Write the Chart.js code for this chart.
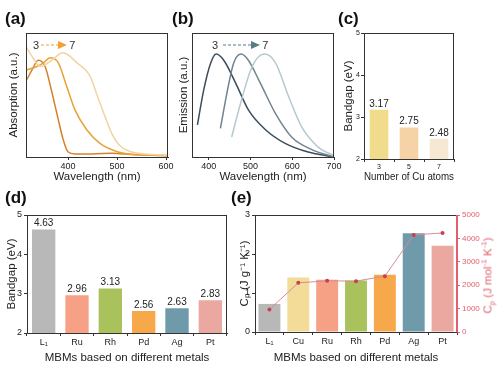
<!DOCTYPE html>
<html>
<head>
<meta charset="utf-8">
<script src="https://cdn.jsdelivr.net/npm/chart.js@4.4.0/dist/chart.umd.min.js"></script>
<style>
  body { margin: 0; background: #fff; width: 497px; height: 367px; position: relative; overflow: hidden;
         font-family: "Liberation Sans", Arial, sans-serif; }
  canvas { position: absolute; }
  .tag { position: absolute; font-weight: bold; font-size: 17px; color: #111; line-height: 20px; }
  .leg { position: absolute; font-size: 11px; color: #333; display: flex; align-items: center; gap: 2px; line-height: 12px; }
  .rtitle { position: absolute; font-size: 11.5px; color: #e0606f; white-space: nowrap; transform: rotate(-90deg); transform-origin: center; }
</style>
</head>
<body>
<canvas id="absChart" width="171" height="162" style="left:7px;top:24px"></canvas>
<canvas id="emiChart" width="168" height="162" style="left:177px;top:24px"></canvas>
<canvas id="cuChart" width="118" height="162" style="left:342px;top:24px"></canvas>
<canvas id="gapChart" width="227" height="160" style="left:5px;top:205px"></canvas>
<canvas id="cpChart" width="257" height="160" style="left:238px;top:205px"></canvas>

<div class="tag" style="left:5px;top:9px">(a)</div>
<div class="tag" style="left:172px;top:9px">(b)</div>
<div class="tag" style="left:338px;top:9px">(c)</div>
<div class="tag" style="left:5px;top:188px">(d)</div>
<div class="tag" style="left:231px;top:188px">(e)</div>

<div class="leg" style="left:33px;top:39px">3
  <svg width="26" height="10"><line x1="0" y1="5" x2="19" y2="5" stroke="#f0a030" stroke-width="1.2" stroke-dasharray="3,2"/><polygon points="17,1 26,5 17,9" fill="#f0a030"/></svg>7</div>
<div class="leg" style="left:212px;top:39px">3
  <svg width="40" height="10"><line x1="3" y1="5" x2="32" y2="5" stroke="#5a7a88" stroke-width="1.2" stroke-dasharray="3,2"/><polygon points="31,1 40,5 31,9" fill="#5a7a88"/></svg>7</div>

<div class="rtitle" style="left:440px;top:267px;width:96px;text-align:center">C<sub style="font-size:8px">p</sub> (J mol<sup style="font-size:8px">-1</sup> K<sup style="font-size:8px">-1</sup>)</div>

<script>
// (a) absorption spectra, 3 / 5 / 7 Cu atoms
const absWl3 = [315, 326, 339, 353, 367, 380, 390, 400, 414, 450, 490, 530, 570, 604];
const absVal3 = [0.62, 0.70, 0.78, 0.73, 0.52, 0.30, 0.14, 0.04, 0.025, 0.025, 0.03, 0.02, 0.015, 0.01];
const absWl5 = [314, 336, 350, 363, 380, 397, 414, 438, 465, 499, 533, 570, 604];
const absVal5 = [0.70, 0.73, 0.76, 0.80, 0.76, 0.57, 0.38, 0.22, 0.11, 0.045, 0.02, 0.015, 0.01];
const absWl7 = [314, 328, 343, 363, 390, 418, 445, 459, 475, 489, 506, 530, 574, 604];
const absVal7 = [0.89, 0.80, 0.73, 0.77, 0.84, 0.76, 0.65, 0.50, 0.33, 0.19, 0.09, 0.04, 0.02, 0.015];
const absTicks = [400, 500, 600];

// (b) emission spectra
const emiWl3 = [373, 388, 405, 418, 436, 464, 495, 536, 583, 638, 700];
const emiVal3 = [0.26, 0.54, 0.76, 0.83, 0.78, 0.60, 0.38, 0.22, 0.11, 0.04, 0.0];
const emiWl5 = [428, 445, 460, 478, 495, 523, 560, 599, 647, 700];
const emiVal5 = [0.23, 0.54, 0.76, 0.83, 0.78, 0.60, 0.35, 0.16, 0.06, 0.0];
const emiWl7 = [455, 476, 504, 533, 560, 591, 623, 662, 700];
const emiVal7 = [0.16, 0.43, 0.73, 0.83, 0.76, 0.49, 0.24, 0.08, 0.01];
const emiTicks = [400, 500, 600, 700];

// (c) bandgap vs number of Cu atoms
const cuAtoms = ['3', '5', '7'];
const cuGap = [3.17, 2.75, 2.48];

// (d) bandgap of MBMs
const gapMetals = ['L\u2081', 'Ru', 'Rh', 'Pd', 'Ag', 'Pt'];
const gapValues = [4.63, 2.96, 3.13, 2.56, 2.63, 2.83];
const gapTicks = [2, 3, 4, 5];

// (e) heat capacity
const cpMetals = ['L\u2081', 'Cu', 'Ru', 'Rh', 'Pd', 'Ag', 'Pt'];
const cpMass = [0.72, 1.40, 1.34, 1.32, 1.47, 2.53, 2.21];
const cpMolar = [966, 2100, 2188, 2173, 2386, 4148, 4233];

Chart.defaults.font.family = '"Liberation Sans", Arial, sans-serif';
Chart.defaults.color = '#222';
Chart.defaults.animation = false;

const metalColors = { 'L\u2081': '#b8b8b8', Cu: '#f3dc98', Ru: '#f6a186', Rh: '#a9c25c', Pd: '#f7a84a', Ag: '#6e9aaa', Pt: '#eba8a1' };

const pts = (xs, ys) => xs.map((x, i) => ({ x: x, y: ys[i] }));

// frame + value labels
const framePlugin = {
    id: 'frame',
    afterDraw(chart, args, opts) {
        const { ctx, chartArea: a } = chart;
        ctx.save();
        ctx.strokeStyle = '#333';
        ctx.lineWidth = 1;
        ctx.strokeRect(a.left + 0.5, a.top + 0.5, a.right - a.left - 1, a.bottom - a.top);
        if (opts.rightColor) {
            ctx.strokeStyle = opts.rightColor;
            ctx.beginPath();
            ctx.moveTo(a.right - 0.5, a.top);
            ctx.lineTo(a.right - 0.5, a.bottom);
            ctx.stroke();
        }
        if (opts.labels) {
            const meta = chart.getDatasetMeta(0);
            ctx.fillStyle = '#222';
            ctx.font = (opts.labelSize || 10) + 'px "Liberation Sans", Arial, sans-serif';
            ctx.textAlign = 'center';
            ctx.textBaseline = 'bottom';
            meta.data.forEach((bar, i) => ctx.fillText(opts.labels[i], bar.x, bar.y - 1));
        }
        ctx.restore();
    }
};
Chart.register(framePlugin);

function axisGrid() {
    return { display: true, drawOnChartArea: false, drawTicks: true, tickLength: 3, color: '#333' };
}

function lineChart(id, sets, xmin, xmax, xticks, ytitle, yw, xh, padTop, padRight) {
    new Chart(document.getElementById(id), {
        type: 'line',
        data: {
            datasets: sets.map(s => ({
                data: s.data, borderColor: s.color, borderWidth: 1.5, pointRadius: 0,
                cubicInterpolationMode: 'monotone', fill: false
            }))
        },
        options: {
            responsive: false,
            layout: { padding: { top: padTop, right: padRight, left: 0, bottom: 0 } },
            plugins: { legend: { display: false }, tooltip: { enabled: false } },
            scales: {
                x: {
                    type: 'linear', min: xmin, max: xmax,
                    grid: axisGrid(), border: { color: '#333' },
                    ticks: { font: { size: 9 }, padding: 1, maxRotation: 0 },
                    afterBuildTicks: s => { s.ticks = xticks.map(v => ({ value: v })); },
                    title: { display: true, text: 'Wavelength (nm)', font: { size: 11.5 }, padding: { top: 0, bottom: 2 } },
                    afterFit: s => { s.height = xh; }
                },
                y: {
                    min: 0, max: 1,
                    grid: { display: false }, border: { color: '#333' },
                    ticks: { display: false },
                    title: { display: true, text: ytitle, font: { size: 11.5 }, padding: { top: 0, bottom: 0 } },
                    afterFit: s => { s.width = yw; }
                }
            }
        }
    });
}

lineChart('absChart', [
    { data: pts(absWl7, absVal7), color: '#f2d4a2' },
    { data: pts(absWl5, absVal5), color: '#e8a236' },
    { data: pts(absWl3, absVal3), color: '#d4822a' }
], 314, 604, absTicks, 'Absorption (a.u.)', 19, 29, 9, 10);

lineChart('emiChart', [
    { data: pts(emiWl7, emiVal7), color: '#b6c9cd' },
    { data: pts(emiWl5, emiVal5), color: '#6f8590' },
    { data: pts(emiWl3, emiVal3), color: '#3c4c5c' }
], 360, 700, emiTicks, 'Emission (a.u.)', 15, 29, 9, 11);

// (c)
new Chart(document.getElementById('cuChart'), {
    type: 'bar',
    data: {
        labels: cuAtoms,
        datasets: [{ data: cuGap, backgroundColor: ['#f1dc8c', '#f6d3a6', '#f6e8d3'], barPercentage: 0.62, categoryPercentage: 1 }]
    },
    options: {
        responsive: false,
        layout: { padding: { top: 9, right: 6, left: 0, bottom: 0 } },
        plugins: { legend: { display: false }, tooltip: { enabled: false },
                   frame: { labels: cuGap.map(v => v.toFixed(2)), labelSize: 10 } },
        scales: {
            x: {
                grid: axisGrid(), border: { color: '#333' },
                ticks: { font: { size: 7 }, padding: 1 },
                title: { display: true, text: 'Number of Cu atoms', font: { size: 11.5 }, padding: { top: 0, bottom: 2 } },
                afterFit: s => { s.height = 27; }
            },
            y: {
                min: 2, max: 5,
                grid: axisGrid(), border: { color: '#333' },
                ticks: { font: { size: 7 }, padding: 1, stepSize: 1 },
                afterBuildTicks: s => { s.ticks = gapTicks.map(v => ({ value: v })); },
                title: { display: true, text: 'Bandgap (eV)', font: { size: 11.5 }, padding: { top: 0, bottom: 0 } },
                afterFit: s => { s.width = 22; }
            }
        }
    }
});

// (d)
new Chart(document.getElementById('gapChart'), {
    type: 'bar',
    data: {
        labels: gapMetals,
        datasets: [{ data: gapValues, backgroundColor: gapMetals.map(m => metalColors[m]), barPercentage: 0.7, categoryPercentage: 1 }]
    },
    options: {
        responsive: false,
        layout: { padding: { top: 10, right: 5, left: 0, bottom: 0 } },
        plugins: { legend: { display: false }, tooltip: { enabled: false },
                   frame: { labels: gapValues.map(v => v.toFixed(2)), labelSize: 10 } },
        scales: {
            x: {
                grid: axisGrid(), border: { color: '#333' },
                ticks: { font: { size: 9 }, padding: 1 },
                title: { display: true, text: 'MBMs based on different metals', font: { size: 11.5 }, padding: { top: 0, bottom: 0 } },
                afterFit: s => { s.height = 32; }
            },
            y: {
                min: 2, max: 5,
                grid: axisGrid(), border: { color: '#333' },
                ticks: { font: { size: 9 }, padding: 2, stepSize: 1 },
                afterBuildTicks: s => { s.ticks = gapTicks.map(v => ({ value: v })); },
                title: { display: true, text: 'Bandgap (eV)', font: { size: 11.5 }, padding: { top: 0, bottom: 0 } },
                afterFit: s => { s.width = 22; }
            }
        }
    }
});

// (e)
new Chart(document.getElementById('cpChart'), {
    type: 'bar',
    data: {
        labels: cpMetals,
        datasets: [
            { data: cpMass, yAxisID: 'y', order: 1, backgroundColor: cpMetals.map(m => metalColors[m]),
              barPercentage: 0.76, categoryPercentage: 1 },
            { type: 'line', data: cpMolar, yAxisID: 'y1', order: 0, borderColor: '#d68c98', borderWidth: 1,
              pointRadius: 2, pointBackgroundColor: '#c8404f', pointBorderWidth: 0, tension: 0 }
        ]
    },
    options: {
        responsive: false,
        layout: { padding: { top: 10, right: 0, left: 0, bottom: 0 } },
        plugins: { legend: { display: false }, tooltip: { enabled: false }, frame: { rightColor: '#e0606f' } },
        scales: {
            x: {
                grid: axisGrid(), border: { color: '#333' },
                ticks: { font: { size: 9 }, padding: 1 },
                title: { display: true, text: 'MBMs based on different metals', font: { size: 11.5 }, padding: { top: 0, bottom: 0 } },
                afterFit: s => { s.height = 33; }
            },
            y: {
                min: 0, max: 3,
                grid: axisGrid(), border: { color: '#333' },
                ticks: { font: { size: 9 }, padding: 2, stepSize: 1 },
                title: { display: true, text: 'C\u209A (J g\u207B\u00B9 K\u207B\u00B9)', font: { size: 11.5 }, padding: { top: 0, bottom: 0 } },
                afterFit: s => { s.width = 17; }
            },
            y1: {
                position: 'right', min: 0, max: 5000,
                grid: { display: true, drawOnChartArea: false, tickLength: 3, color: '#e0606f' },
                border: { color: '#e0606f' },
                ticks: { font: { size: 8 }, padding: 2, stepSize: 1000, color: '#e0606f', callback: v => String(v) },
                afterFit: s => { s.width = 38; }
            }
        }
    }
});
</script>
</body>
</html>
